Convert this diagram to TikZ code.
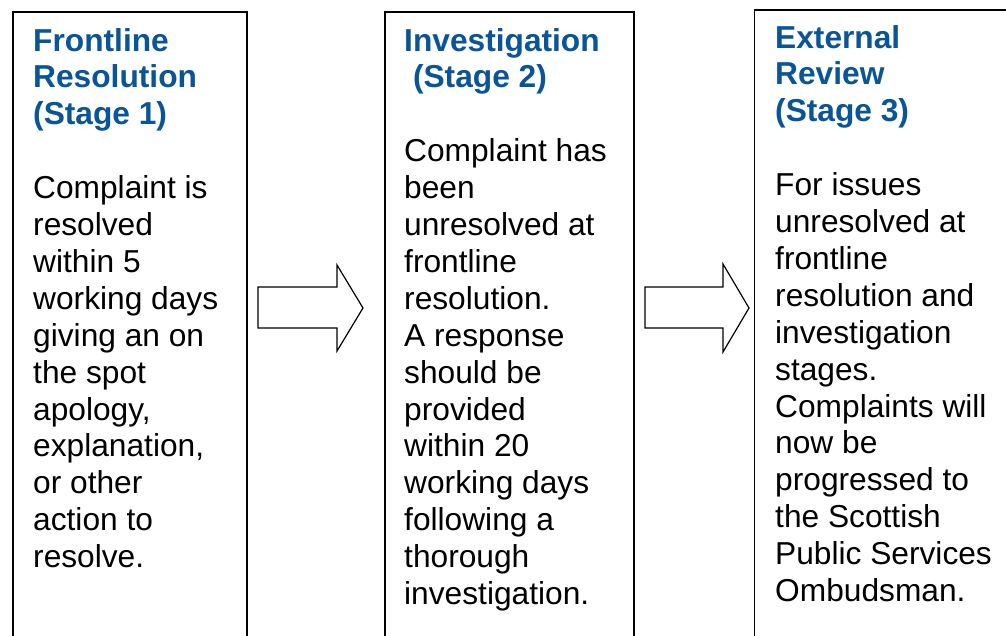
\documentclass[tikz,border=0pt]{standalone}
\usepackage{fontspec}
\setmainfont{Liberation Sans}
\definecolor{titleblue}{RGB}{10,84,152}
\tikzset{
  stagebox/.style={draw=black, line width=1.6pt, fill=none, anchor=north west, inner sep=0pt},
  stagetext/.style={anchor=base west, inner sep=0pt, font=\fontsize{31.7}{36.9}\selectfont},
  blockarrow/.style={draw=black, line width=1.2pt, fill=white, line join=miter}
}
\newcommand{\ttl}[1]{{\color{titleblue}\bfseries #1}}
\begin{document}
\begin{tikzpicture}[x=1pt,y=-1pt]
\useasboundingbox (0,0) rectangle (1006,635);
\clip (0,0) rectangle (1006,635);
\fill[white] (0,0) rectangle (1006,635);
% boxes
\node[stagebox, minimum width=234pt, minimum height=700pt] (box1) at (12,11) {};
\node[stagebox, minimum width=249pt, minimum height=700pt] (box2) at (384,11) {};
\node[stagebox, minimum width=300pt, minimum height=700pt] (box3) at (753.5,9) {};
% texts
\node[stagetext] (t1) at (33,51) {\parbox[t]{215pt}{\leavevmode\raggedright
\ttl{Frontline}\\ \ttl{Resolution}\\ \ttl{(Stage 1)}\\[36.9pt]
Complaint is\\ resolved\\ within 5\\ working days\\ giving an on\\ the spot\\ apology,\\ explanation,\\ or other\\ action to\\ resolve.}};
\node[stagetext] (t2) at (404,51) {\parbox[t]{225pt}{\leavevmode\raggedright
\ttl{Investigation}\\ \ttl{\mbox{ (Stage 2)}}\\[36.9pt]
Complaint has\\ been\\ unresolved at\\ frontline\\ resolution.\\ A response\\ should be\\ provided\\ within 20\\ working days\\ following a\\ thorough\\ investigation.}};
\node[stagetext] (t3) at (775,48) {\parbox[t]{235pt}{\leavevmode\raggedright
\ttl{External}\\ \ttl{Review}\\ \ttl{(Stage 3)}\\[36.9pt]
For issues\\ unresolved at\\ frontline\\ resolution and\\ investigation\\ stages.\\ Complaints will\\ now be\\ progressed to\\ the Scottish\\ Public Services\\ Ombudsman.}};
% block arrows
\draw[blockarrow] (258,287) -- (337,287) -- (337,265) -- (363,308) -- (337,351) -- (337,328) -- (258,328) -- cycle;
\draw[blockarrow] (645,287) -- (723,287) -- (723,264) -- (749,308) -- (723,352) -- (723,328) -- (645,328) -- cycle;
\end{tikzpicture}
\end{document}
